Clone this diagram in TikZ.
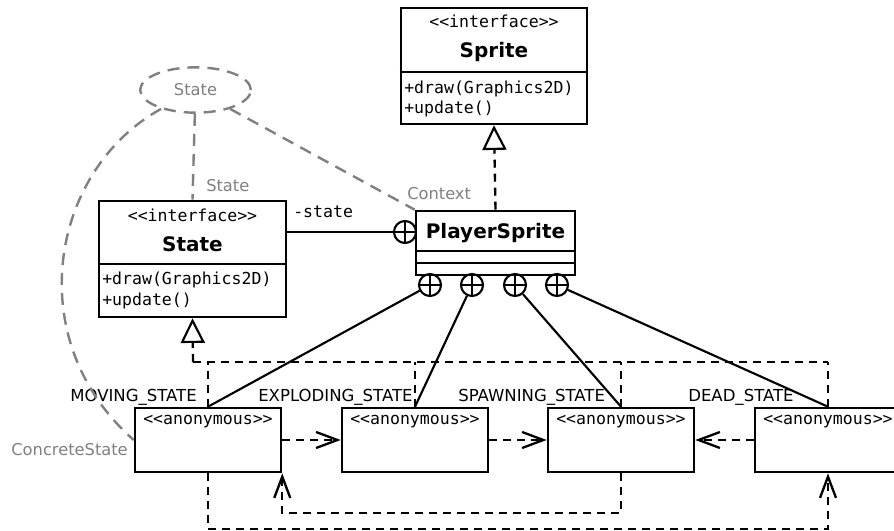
\documentclass[tikz,border=0pt]{standalone}
\usepackage{fontspec}
\setmainfont{DejaVu Sans}
\newfontfamily\umlmono{DejaVu Sans Mono}
\usepackage{tikz}
\usetikzlibrary{arrows.meta, shapes.geometric}

\definecolor{collabgray}{RGB}{128,128,128}

\tikzset{
  classbox/.style={draw, line width=1.9pt, inner sep=0pt},
  monotext/.style={font=\umlmono\fontsize{12.4}{15}\selectfont, inner sep=0pt},
  classname/.style={font=\bfseries\fontsize{15}{18}\selectfont, inner sep=0pt},
  rolelabel/.style={font=\fontsize{12.4}{14}\selectfont, inner sep=0pt},
  collabtext/.style={font=\fontsize{12.2}{14}\selectfont, text=collabgray, inner sep=0pt},
  nest/.style={circle, draw, line width=1.6pt, minimum size=16.5pt, inner sep=0pt,
    path picture={\draw[line width=1.6pt]
      (path picture bounding box.north) -- (path picture bounding box.south)
      (path picture bounding box.west) -- (path picture bounding box.east);}},
  assoc/.style={line width=1.6pt},
  realtree/.style={line width=1.75pt, dash pattern=on 6pt off 4.5pt},
  realize/.style={realtree, -{Triangle[open, length=18.5pt, width=18pt, line width=1.6pt]}},
  trans/.style={realtree, -{Straight Barb[length=16pt, width=12pt, line width=1.75pt]}},
  collabline/.style={collabgray, line width=1.8pt, dash pattern=on 9pt off 6pt}
}

\begin{document}
\begin{tikzpicture}[x=0.75pt, y=-0.75pt]
  \useasboundingbox (0,0) rectangle (894,531);
  \clip (0,0) rectangle (894,531);

  % Sprite interface
  \node[classbox, minimum width=139.5pt, minimum height=87pt] (sprite) at (494,66) {};
  \draw[classbox] (sprite.west |- 0,72) -- (sprite.east |- 0,72);
  \node[monotext] (spriteStereo) at (494,21) {<<interface>>};
  \node[classname] (spriteName) at (494,52) {Sprite};
  \node[monotext, anchor=west] (spriteDraw) at (404,89) {+draw(Graphics2D)};
  \node[monotext, anchor=west] (spriteUpdate) at (404,109) {+update()};

  % State interface
  \node[classbox, minimum width=140.25pt, minimum height=87pt] (state) at (192.5,259) {};
  \draw[classbox] (state.west |- 0,264) -- (state.east |- 0,264);
  \node[monotext] (stateStereo) at (192.5,215) {<<interface>>};
  \node[classname] (stateName) at (192.5,244) {State};
  \node[monotext, anchor=west] (stateDraw) at (102,280) {+draw(Graphics2D)};
  \node[monotext, anchor=west] (stateUpdate) at (102,301) {+update()};

  % PlayerSprite context
  \node[classbox, minimum width=119.25pt, minimum height=48pt] (player) at (495.5,243) {};
  \draw[classbox] (player.west |- 0,251) -- (player.east |- 0,251);
  \draw[classbox] (player.west |- 0,263) -- (player.east |- 0,263);
  \node[classname] (playerName) at (495.5,233) {PlayerSprite};

  \draw[realize] (player.north) -- (sprite.south);

  % -state association
  \node[nest] (nestState) at (405,232) {};
  \draw[assoc] (state.east |- nestState) -- (nestState);
  \node[monotext, anchor=west] (stateRole) at (293,212) {-state};

  % Anonymous state classes
  \foreach \i/\x in {1/208, 2/415, 3/621, 4/828} {
    \node[classbox, minimum width=109.5pt, minimum height=48pt] (anon\i) at (\x,440) {};
    \node[monotext, anchor=west] (anonText\i) at (\x-65,422) {<<anonymous>>};
  }
  \foreach \i/\x/\name in {1/70/MOVING, 2/258/EXPLODING, 3/458/SPAWNING, 4/688/DEAD}
    \node[rolelabel, anchor=west] (role\i) at (\x,397) {\name\_STATE};

  % Nested classes of PlayerSprite
  \foreach \i/\x in {1/430, 2/472, 3/515, 4/557} {
    \node[nest] (nest\i) at (\x,285) {};
    \draw[assoc] (nest\i) -- (anon\i.north);
  }

  % Realization of State
  \coordinate (bus) at (193,362);
  \draw[realize] (bus) -- (state.south);
  \draw[realtree] (bus) -- (bus -| anon4.north);
  \foreach \i in {1,...,4}
    \draw[realtree] (anon\i.north) -- (anon\i.north |- bus);

  % Transitions
  \draw[trans] (anon1.east) -- (anon2.west);
  \draw[trans] (anon2.east) -- (anon3.west);
  \draw[trans] (anon4.west) -- (anon3.east);
  \draw[trans] (anon3.south) -- ++(0,40) -| (anon1.south east);
  \draw[trans] (anon1.south) -- ++(0,56) -| (anon4.south);

  % State pattern collaboration
  \node[ellipse, draw=collabgray, line width=1.8pt, dash pattern=on 9pt off 6pt,
    minimum width=83pt, minimum height=34pt, inner sep=0pt,
    font=\fontsize{12.2}{14}\selectfont, text=collabgray] (pattern) at (195.5,90) {State};
  \draw[collabline] (pattern) -- (state.north);
  \draw[collabline] (pattern) -- (player.north west);
  \draw[collabline] (pattern) .. controls (50,170) and (20,340) .. (anon1.west);
  \node[collabtext, anchor=west] (stateBind) at (206,186) {State};
  \node[collabtext, anchor=west] (contextBind) at (407,194) {Context};
  \node[collabtext, anchor=east] (concreteBind) at (128,450) {ConcreteState};
\end{tikzpicture}
\end{document}
